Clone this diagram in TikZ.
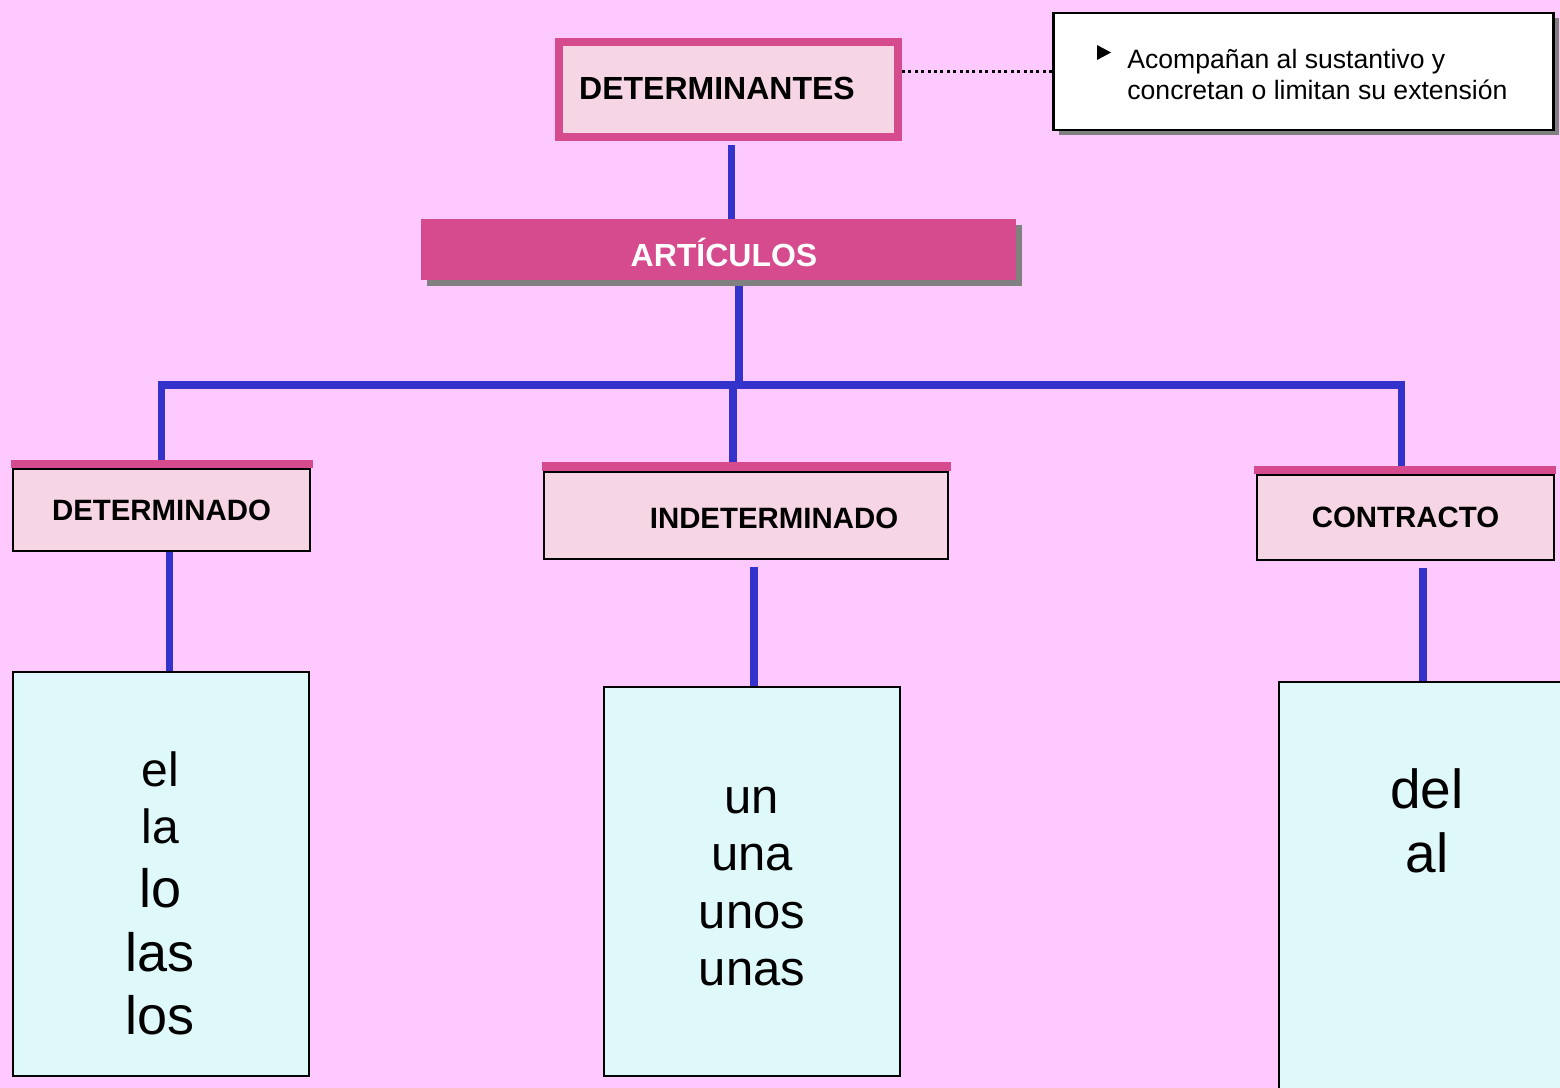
\documentclass[tikz,border=0pt]{standalone}
\usepackage{fontspec}
\setmainfont{Liberation Sans}
\usetikzlibrary{shadows}
\usetikzlibrary{backgrounds}

\definecolor{bgpink}{RGB}{253,201,254}
\definecolor{magbar}{RGB}{214,75,141}
\definecolor{palepink}{RGB}{246,213,229}
\definecolor{palecyan}{RGB}{223,249,250}
\definecolor{linkblue}{RGB}{51,51,204}
\definecolor{shadegray}{RGB}{128,128,128}

\tikzset{
  link/.style={linkblue, line width=3.6pt},
  dotline/.style={black, line width=1.5pt, dash pattern=on 1.5pt off 1.7pt},
  topbox/.style={draw=magbar, line width=4pt, fill=palepink, minimum width=169.5pt, minimum height=47.5pt, inner sep=0pt},
  notebox/.style={draw=black, line width=1.2pt, fill=white, minimum width=250pt, minimum height=58.5pt, inner sep=0pt,
    drop shadow={shadow xshift=2.5pt, shadow yshift=-2.5pt, fill=shadegray, opacity=1}},
  bar/.style={fill=magbar, minimum width=297.5pt, minimum height=30.5pt, inner sep=0pt,
    drop shadow={shadow xshift=3pt, shadow yshift=-3pt, fill=shadegray, opacity=1}},
  kindbox/.style={draw=black, line width=1.2pt, fill=palepink, inner sep=0pt, font=\fontsize{14.7}{17}\selectfont\bfseries},
  listbox/.style={draw=black, line width=1.2pt, fill=palecyan, inner sep=0pt},
  word/.style={anchor=base, inner sep=0pt}
}

\begin{document}
\begin{tikzpicture}[x=0.5pt, y=-0.5pt]
\useasboundingbox (0,0) rectangle (1560,1088);

% boxes
\node (det) [topbox] at (728.5,89.5) {};
\node (detlbl) [anchor=base, inner sep=0pt, font=\fontsize{16}{19}\selectfont\bfseries] at (717,99) {DETERMINANTES};
\node (note) [notebox] at (1303.5,71.5) {};
\fill (1097,45) -- (1111,52.5) -- (1097,60) -- cycle;
\node (notetxt) [anchor=base west, align=left, inner sep=0pt, font=\fontsize{13.3}{15.5}\selectfont] at (1127,99) {Acompañan al sustantivo y\\concretan o limitan su extensión};
\node (art) [bar] at (718.5,249.5) {};
\node (artlbl) [anchor=base, inner sep=0pt, text=white, font=\fontsize{16}{19}\selectfont\bfseries] at (724,266) {ARTÍCULOS};

\node (detm) [kindbox, minimum width=148.3pt, minimum height=40.8pt] at (161.5,510) {DETERMINADO};
\node (indm) [kindbox, minimum width=201.8pt, minimum height=43.3pt] at (746,515.5) {};
\node (indlbl) [inner sep=0pt, font=\fontsize{14.7}{17}\selectfont\bfseries] at (774,518) {INDETERMINADO};
\node (con) [kindbox, minimum width=148.3pt, minimum height=42.3pt] at (1405.5,517.5) {CONTRACTO};
% pink strips on top
\fill[magbar] ([xshift=-0.6pt]detm.north west) rectangle ([shift={(1pt,4pt)}]detm.north east);
\fill[magbar] ([xshift=-0.6pt]indm.north west) rectangle ([shift={(1pt,4.5pt)}]indm.north east);
\fill[magbar] ([xshift=-1pt]con.north west) rectangle ([shift={(0.6pt,4pt)}]con.north east);

\node (elbox) [listbox, minimum width=147.8pt, minimum height=201.8pt] at (161,874) {};
\node (unbox) [listbox, minimum width=147.8pt, minimum height=194.3pt] at (752,881.5) {};
\node (delbox) [listbox, minimum width=149.8pt, minimum height=208.3pt] at (1429,890.5) {};

\node (wel) [word, font=\fontsize{24}{28}\selectfont] at (160.5,786) {el};
\node (wla) [word, font=\fontsize{24}{28}\selectfont] at (160.5,843) {la};
\node (wlo) [word, font=\fontsize{27}{32}\selectfont] at (160.5,907) {lo};
\node (wlas) [word, font=\fontsize{27}{32}\selectfont] at (160.5,971) {las};
\node (wlos) [word, font=\fontsize{27}{32}\selectfont] at (160.5,1034) {los};

\node (wun) [word, font=\fontsize{24.5}{29}\selectfont] at (752,813) {un};
\node (wuna) [word, font=\fontsize{24.5}{29}\selectfont] at (752,870) {una};
\node (wunos) [word, font=\fontsize{24.5}{29}\selectfont] at (752,928) {unos};
\node (wunas) [word, font=\fontsize{24.5}{29}\selectfont] at (752,985) {unas};

\node (wdel) [word, font=\fontsize{27.5}{32}\selectfont] at (1427,808) {del};
\node (wal) [word, font=\fontsize{27.5}{32}\selectfont] at (1427,872) {al};

% connectors behind the boxes
\begin{scope}[on background layer]
\fill[bgpink] (0,0) rectangle (1560,1088);
\coordinate (bus) at (739,385);
\coordinate (midhub) at (733,385);
\draw[dotline] (det.east |- note.west) -- (note.west);
\draw[link] ([shift={(1.5pt,-2pt)}]det.south) -- ([xshift=1.5pt]det.south |- art.north);
\draw[link] (art.south -| bus) -- (bus);
\draw[link] (detm.north) |- (bus) -| ([xshift=-2pt]con.north);
\draw[link] (midhub) -- (midhub |- indm.north);
\draw[link] ([xshift=4pt]detm.south) -- ([xshift=4pt]detm.south |- elbox.north);
\draw[link] ([shift={(4pt,-3.5pt)}]indm.south) -- ([xshift=4pt]indm.south |- unbox.north);
\draw[link] ([shift={(-3pt,-3.5pt)}]con.south -| delbox.north) -- ([xshift=-3pt]delbox.north);
\end{scope}
\end{tikzpicture}
\end{document}
